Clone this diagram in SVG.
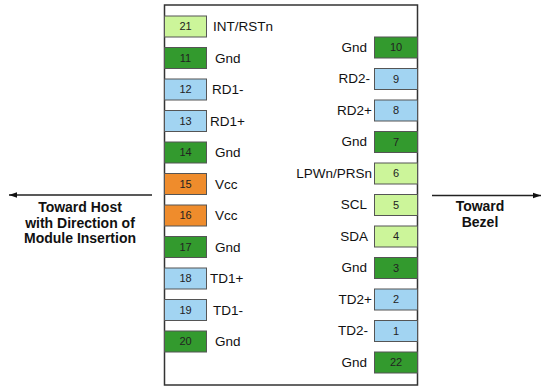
<svg xmlns="http://www.w3.org/2000/svg" width="550" height="390" viewBox="0 0 550 390">
<defs>
<style>
.frame{fill:#fff;stroke:#333;stroke-width:1.5}
.pin{stroke:#555;stroke-width:1}
.lg{fill:#ccf59a}
.dg{fill:#339a2e}
.lb{fill:#a2d4f2}
.or{fill:#ef8c2c}
.num{font-family:"Liberation Sans",Arial,sans-serif;font-size:11px;fill:#222;text-anchor:middle}
.lab{font-family:"Liberation Sans",Arial,sans-serif;font-size:13.5px;fill:#111}
.r{text-anchor:end}
.dir{font-family:"Liberation Sans",Arial,sans-serif;font-size:14px;font-weight:bold;fill:#111;text-anchor:middle}
.arr{stroke:#222;stroke-width:1.3;fill:none}
</style>
<marker id="ah" viewBox="0 0 10 10" refX="10" refY="5" markerWidth="8" markerHeight="8" markerUnits="userSpaceOnUse" orient="auto">
<path d="M0,1.5 L10,5 L0,8.5 z" fill="#111"/>
</marker>
</defs>
<rect id="module" class="frame" x="164.5" y="5" width="253" height="380"/>
<g id="connectors">
<line class="arr" x1="152" y1="195" x2="9" y2="195" marker-end="url(#ah)"/>
<line class="arr" x1="432" y1="195.5" x2="541" y2="195.5" marker-end="url(#ah)"/>
</g>
<g id="host-label"><text class="dir" x="80" y="212">Toward Host</text><text class="dir" x="80" y="227.5">with Direction of</text><text class="dir" x="80" y="243">Module Insertion</text></g>
<g id="bezel-label"><text class="dir" x="480" y="211">Toward</text><text class="dir" x="480" y="226.5">Bezel</text></g>
<g id="pin21"><rect class="pin lg" x="164.5" y="16" width="42" height="21"/><text class="num" x="185.5" y="30.3">21</text><text class="lab" x="213" y="31">INT/RSTn</text></g>
<g id="pin11"><rect class="pin dg" x="164.5" y="47.5" width="42" height="21"/><text class="num" x="185.5" y="61.8">11</text><text class="lab" x="215" y="62.5">Gnd</text></g>
<g id="pin12"><rect class="pin lb" x="164.5" y="79" width="42" height="21"/><text class="num" x="185.5" y="93.3">12</text><text class="lab" x="212" y="94">RD1-</text></g>
<g id="pin13"><rect class="pin lb" x="164.5" y="110.5" width="42" height="21"/><text class="num" x="185.5" y="124.8">13</text><text class="lab" x="210" y="125.5">RD1+</text></g>
<g id="pin14"><rect class="pin dg" x="164.5" y="142" width="42" height="21"/><text class="num" x="185.5" y="156.3">14</text><text class="lab" x="215" y="157">Gnd</text></g>
<g id="pin15"><rect class="pin or" x="164.5" y="173.5" width="42" height="21"/><text class="num" x="185.5" y="187.8">15</text><text class="lab" x="215" y="188.5">Vcc</text></g>
<g id="pin16"><rect class="pin or" x="164.5" y="205" width="42" height="21"/><text class="num" x="185.5" y="219.3">16</text><text class="lab" x="215" y="220">Vcc</text></g>
<g id="pin17"><rect class="pin dg" x="164.5" y="236.5" width="42" height="21"/><text class="num" x="185.5" y="250.8">17</text><text class="lab" x="215" y="251.5">Gnd</text></g>
<g id="pin18"><rect class="pin lb" x="164.5" y="268" width="42" height="21"/><text class="num" x="185.5" y="282.3">18</text><text class="lab" x="210" y="283">TD1+</text></g>
<g id="pin19"><rect class="pin lb" x="164.5" y="299.5" width="42" height="21"/><text class="num" x="185.5" y="313.8">19</text><text class="lab" x="213" y="314.5">TD1-</text></g>
<g id="pin20"><rect class="pin dg" x="164.5" y="331" width="42" height="21"/><text class="num" x="185.5" y="345.3">20</text><text class="lab" x="215" y="346">Gnd</text></g>
<g id="pin10"><rect class="pin dg" x="374.5" y="37" width="43" height="21"/><text class="num" x="396" y="51.3">10</text><text class="lab r" x="367" y="51.5">Gnd</text></g>
<g id="pin9"><rect class="pin lb" x="374.5" y="68.5" width="43" height="21"/><text class="num" x="396" y="82.8">9</text><text class="lab r" x="370" y="83">RD2-</text></g>
<g id="pin8"><rect class="pin lb" x="374.5" y="100" width="43" height="21"/><text class="num" x="396" y="114.3">8</text><text class="lab r" x="372" y="114.5">RD2+</text></g>
<g id="pin7"><rect class="pin dg" x="374.5" y="131.5" width="43" height="21"/><text class="num" x="396" y="145.8">7</text><text class="lab r" x="367" y="146">Gnd</text></g>
<g id="pin6"><rect class="pin lg" x="374.5" y="163" width="43" height="21"/><text class="num" x="396" y="177.3">6</text><text class="lab r" x="372" y="177.5">LPWn/PRSn</text></g>
<g id="pin5"><rect class="pin lg" x="374.5" y="194.5" width="43" height="21"/><text class="num" x="396" y="208.8">5</text><text class="lab r" x="367" y="209">SCL</text></g>
<g id="pin4"><rect class="pin lg" x="374.5" y="226" width="43" height="21"/><text class="num" x="396" y="240.3">4</text><text class="lab r" x="368" y="240.5">SDA</text></g>
<g id="pin3"><rect class="pin dg" x="374.5" y="257.5" width="43" height="21"/><text class="num" x="396" y="271.8">3</text><text class="lab r" x="367" y="272">Gnd</text></g>
<g id="pin2"><rect class="pin lb" x="374.5" y="289" width="43" height="21"/><text class="num" x="396" y="303.3">2</text><text class="lab r" x="372" y="303.5">TD2+</text></g>
<g id="pin1"><rect class="pin lb" x="374.5" y="320.5" width="43" height="21"/><text class="num" x="396" y="334.8">1</text><text class="lab r" x="368" y="335">TD2-</text></g>
<g id="pin22"><rect class="pin dg" x="374.5" y="352" width="43" height="21"/><text class="num" x="396" y="366.3">22</text><text class="lab r" x="367" y="366.5">Gnd</text></g>
</svg>
